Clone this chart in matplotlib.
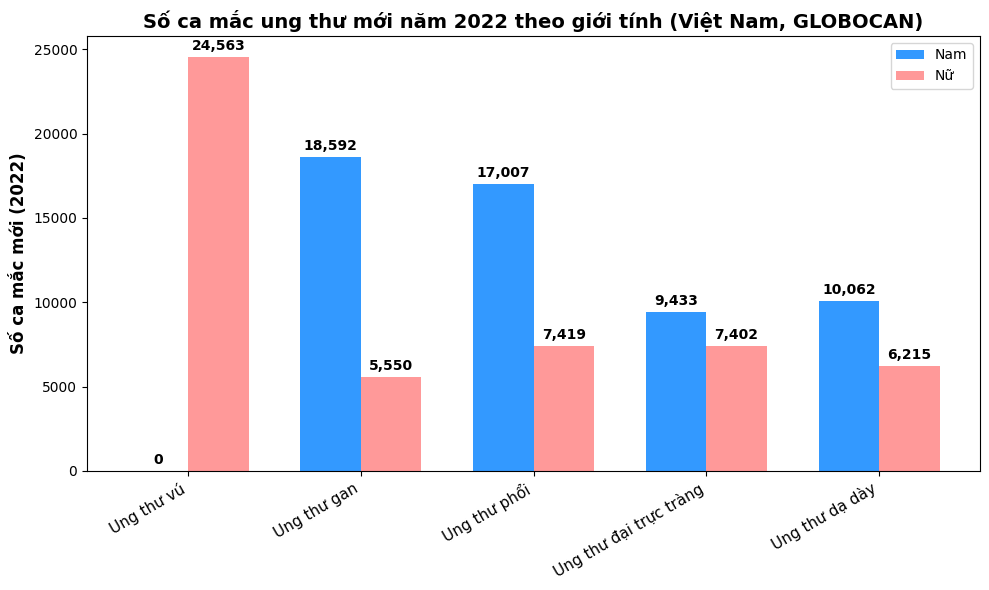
import numpy as np
import matplotlib.pyplot as plt

# Dữ liệu GLOBOCAN 2022 - Việt Nam
cancers = ["Ung thư vú", "Ung thư gan", "Ung thư phổi", "Ung thư đại trực tràng", "Ung thư dạ dày"]
male = [0, 18592, 17007, 9433, 10062]
female = [24563, 5550, 7419, 7402, 6215]

x = np.arange(len(cancers))
width = 0.35

fig, ax = plt.subplots(figsize=(9.89, 5.90), dpi=100)
bars_m = ax.bar(x - width / 2, male, width, label="Nam", color="#3399ff")
bars_f = ax.bar(x + width / 2, female, width, label="Nữ", color="#ff9999")

# Ghi số lên đầu cột
for bars in (bars_m, bars_f):
    for b in bars:
        h = b.get_height()
        ax.annotate(f"{int(h):,}", xy=(b.get_x() + b.get_width() / 2, h),
                    xytext=(0, 3), textcoords="offset points",
                    ha="center", va="bottom", fontsize=10, fontweight="bold")

ax.set_title("Số ca mắc ung thư mới năm 2022 theo giới tính (Việt Nam, GLOBOCAN)",
             fontsize=14, fontweight="bold")
ax.set_ylabel("Số ca mắc mới (2022)", fontsize=12, fontweight="bold")
ax.set_xticks(x)
ax.set_xticklabels(cancers, rotation=30, ha="right", fontsize=11)
ax.legend()

fig.subplots_adjust(left=0.088, right=0.991, top=0.939, bottom=0.202)
plt.savefig("out.png")
